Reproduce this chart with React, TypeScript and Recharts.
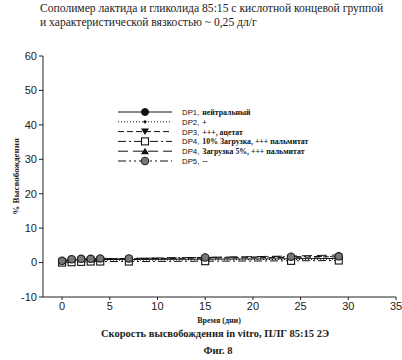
import { LineChart, Line, XAxis, YAxis } from "recharts";

const days = [0, 1, 2, 3, 4, 7, 15, 24, 29];
const dp1 = [0.3, 0.7, 0.8, 0.8, 0.9, 0.9, 1.0, 1.1, 1.2];
const dp2 = [0.2, 0.5, 0.6, 0.6, 0.7, 0.7, 0.8, 0.9, 1.0];
const dp3 = [0.3, 0.8, 0.9, 0.9, 1.0, 1.1, 1.3, 1.5, 1.7];
const dp4a = [0.0, 0.1, 0.2, 0.3, 0.3, 0.3, 0.4, 0.5, 0.6];
const dp4b = [0.4, 0.9, 1.0, 1.0, 1.1, 1.2, 1.5, 1.9, 2.2];
const dp5 = [0.5, 1.0, 1.1, 1.1, 1.2, 1.2, 1.5, 1.7, 1.8];

const xTicks = [0, 5, 10, 15, 20, 25, 30, 35];
const yTicks = [-10, 0, 10, 20, 30, 40, 50, 60];

const data = days.map((d, i) => ({
  day: d,
  dp1: dp1[i],
  dp2: dp2[i],
  dp3: dp3[i],
  dp4a: dp4a[i],
  dp4b: dp4b[i],
  dp5: dp5[i],
}));

type Marker = "circle" | "dot" | "down" | "square" | "up" | "gray";

const series: Array<{ key: string; code: string; label: string; dash?: string; marker: Marker }> = [
  { key: "dp1", code: "DP1,", label: "нейтральный", marker: "circle" },
  { key: "dp2", code: "DP2,", label: "+", dash: "1 2", marker: "dot" },
  { key: "dp3", code: "DP3,", label: "+++, ацетат", dash: "6 3", marker: "down" },
  { key: "dp4a", code: "DP4,", label: "10% Загрузка, +++ пальмитат", dash: "8 3 2 3", marker: "square" },
  { key: "dp4b", code: "DP4,", label: "Загрузка 5%, +++ пальмитат", dash: "10 5", marker: "up" },
  { key: "dp5", code: "DP5,", label: "--", dash: "8 3 2 3 2 3", marker: "gray" },
];

function drawMarker(m: Marker, cx: number, cy: number, k?: string | number) {
  switch (m) {
    case "circle":
      return <circle key={k} cx={cx} cy={cy} r={3.5} fill="#111" stroke="#111" />;
    case "dot":
      return <circle key={k} cx={cx} cy={cy} r={1.6} fill="#111" />;
    case "down":
      return <path key={k} d={`M${cx - 4},${cy - 3}L${cx + 4},${cy - 3}L${cx},${cy + 3.5}Z`} fill="#111" />;
    case "square":
      return <rect key={k} x={cx - 3.5} y={cy - 3.5} width={7} height={7} fill="#fff" stroke="#111" strokeWidth={1.1} />;
    case "up":
      return <path key={k} d={`M${cx - 4},${cy + 3}L${cx + 4},${cy + 3}L${cx},${cy - 3.5}Z`} fill="#111" />;
    default:
      return <circle key={k} cx={cx} cy={cy} r={3.7} fill="#777" stroke="#222" strokeWidth={1.1} />;
  }
}

const serif = "'Liberation Serif', 'Times New Roman', serif";
const sans = "'Liberation Sans', Arial, sans-serif";

function LegendBox() {
  return (
    <svg width={240} height={66} style={{ display: "block" }}>
      {series.map((s, i) => {
        const y = 5 + i * 9.8;
        return (
          <g key={s.key}>
            <line x1={2} x2={56} y1={y} y2={y} stroke="#111" strokeWidth={1} strokeDasharray={s.dash} />
            {drawMarker(s.marker, 29, y)}
            <text x={66} y={y + 3} fontSize={7.8} fill="#111">
              <tspan fontFamily={sans}>{s.code}</tspan>
              <tspan fontFamily={serif} fontWeight="bold" dx={3}>{s.label}</tspan>
            </text>
          </g>
        );
      })}
    </svg>
  );
}

export default function App() {
  return (
    <div style={{ position: "absolute", left: 0, top: 0, width: 402, height: 360, background: "#fff" }}>
      <div
        style={{
          position: "absolute",
          left: 40,
          top: 2,
          fontFamily: serif,
          fontSize: 11.6,
          lineHeight: "14px",
          color: "#222",
          whiteSpace: "nowrap",
        }}
      >
        Сополимер лактида и гликолида 85:15 с кислотной концевой группой
        <br />
        и характеристической вязкостью ~ 0,25 дл/г
      </div>
      <LineChart
        width={402}
        height={360}
        data={data}
        margin={{ top: 56, right: 6, bottom: 33, left: 0 }}
        style={{ position: "absolute", left: 0, top: 0 }}
      >
        <XAxis
          dataKey="day"
          type="number"
          domain={[-2, 35]}
          ticks={xTicks}
          interval={0}
          tickSize={3}
          height={30}
          tick={{ fontFamily: sans, fontSize: 11, fill: "#222" }}
          stroke="#222"
        />
        <YAxis
          domain={[-10, 60]}
          ticks={yTicks}
          interval={0}
          width={43}
          tickSize={4}
          tick={{ fontFamily: sans, fontSize: 11, fill: "#222" }}
          stroke="#222"
          label={{
            value: "% Высвобождения",
            angle: -90,
            position: "insideLeft",
            offset: 16,
            style: { fontFamily: serif, fontWeight: "bold", fontSize: 9, fill: "#222", textAnchor: "middle" },
          }}
        />
        {series.map((s) => (
          <Line
            key={s.key}
            dataKey={s.key}
            stroke="#111"
            strokeWidth={1}
            strokeDasharray={s.dash}
            isAnimationActive={false}
            dot={(p: any) => drawMarker(s.marker, p.cx, p.cy, `${s.key}-${p.index}`)}
          />
        ))}
      </LineChart>
      <div style={{ position: "absolute", left: 116, top: 107 }}>
        <LegendBox />
      </div>
      <div
        style={{
          position: "absolute",
          left: 0,
          width: 438,
          top: 316,
          textAlign: "center",
          fontFamily: serif,
          fontWeight: "bold",
          fontSize: 8,
          color: "#222",
        }}
      >
        Время (дни)
      </div>
      <div
        style={{
          position: "absolute",
          left: 0,
          width: 430,
          top: 328,
          textAlign: "center",
          fontFamily: serif,
          fontWeight: "bold",
          fontSize: 10.5,
          color: "#222",
        }}
      >
        Скорость высвобождения in vitro, ПЛГ 85:15 2Э
      </div>
      <div
        style={{
          position: "absolute",
          left: 0,
          width: 436,
          top: 345,
          textAlign: "center",
          fontFamily: serif,
          fontWeight: "bold",
          fontSize: 10.5,
          color: "#222",
        }}
      >
        Фиг. 8
      </div>
    </div>
  );
}
